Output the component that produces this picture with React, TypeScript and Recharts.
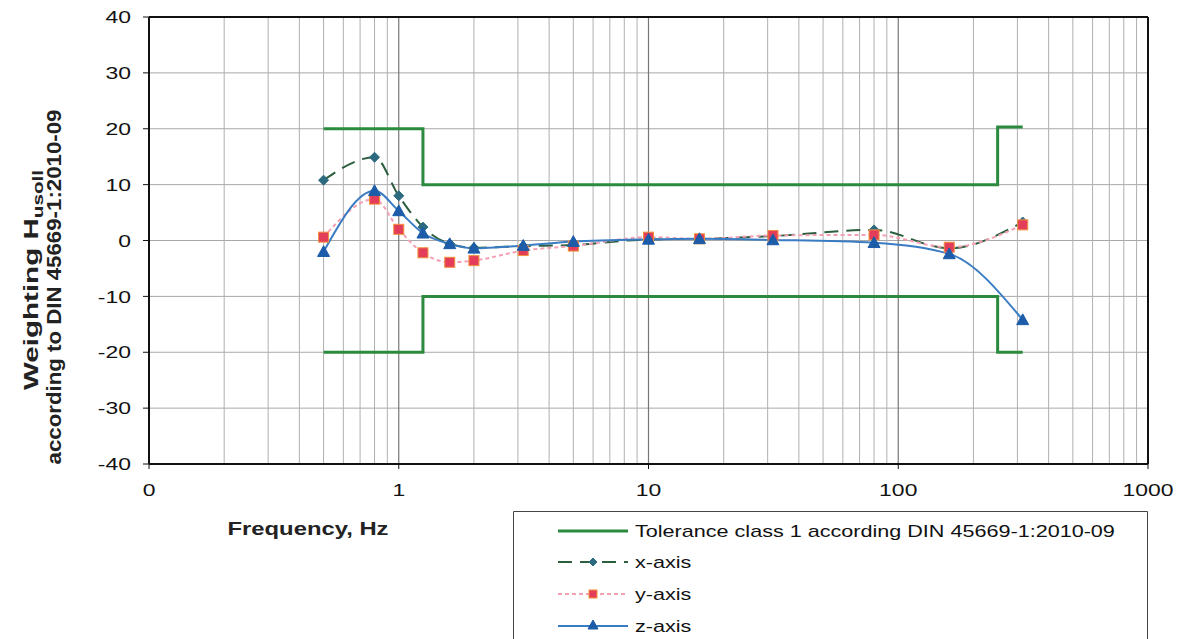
import React from 'react';
import { LineChart, Line, XAxis, YAxis, CartesianGrid, ReferenceLine, Legend, Label } from 'recharts';

// ---- data ----
const freqs = [0.5, 0.8, 1, 1.25, 1.6, 2, 3.15, 5, 10, 16, 31.5, 80, 160, 315];
const xAxisValues = [10.8, 14.9, 8.0, 2.4, -0.6, -1.3, -1.0, -0.8, 0.2, 0.3, 0.8, 1.9, -1.4, 3.3];
const yAxisValues = [0.6, 7.4, 2.0, -2.2, -3.9, -3.6, -1.8, -1.0, 0.6, 0.3, 0.9, 1.0, -1.2, 2.8];
const zAxisValues = [-2.0, 8.9, 5.3, 1.3, -0.6, -1.4, -0.9, -0.2, 0.2, 0.3, 0.1, -0.4, -2.4, -14.2];

const tolFreqs = [0.5, 1.25, 1.25, 250, 250, 315];
const tolUpper = [20, 20, 10, 10, 20.3, 20.3];
const tolLower = [-20, -20, -10, -10, -20, -20];

const xTicks = [0.1, 1, 10, 100, 1000];
const xTickLabels = ['0', '1', '10', '100', '1000'];
const yTicks = [-40, -30, -20, -10, 0, 10, 20, 30, 40];
const minorGridFreqs = [
  0.2, 0.3, 0.4, 0.5, 0.6, 0.7, 0.8, 0.9,
  2, 3, 4, 5, 6, 7, 8, 9,
  20, 30, 40, 50, 60, 70, 80, 90,
  200, 300, 400, 500, 600, 700, 800, 900,
];
const majorGridFreqs = [1, 10, 100];

const seriesNames = {
  tol: 'Tolerance class 1 according DIN 45669-1:2010-09',
  x: 'x-axis',
  y: 'y-axis',
  z: 'z-axis',
};

const xData = freqs.map((f, i) => ({ f, v: xAxisValues[i] }));
const yData = freqs.map((f, i) => ({ f, v: yAxisValues[i] }));
const zData = freqs.map((f, i) => ({ f, v: zAxisValues[i] }));
const upperData = tolFreqs.map((f, i) => ({ f, v: tolUpper[i] }));
const lowerData = tolFreqs.map((f, i) => ({ f, v: tolLower[i] }));

// ---- styles ----
const FONT = "'Liberation Sans', Arial, sans-serif";
const C_TOL = '#2b8a3e';
const C_X = '#2d5e3e';
const C_XM = '#2d6a80';
const C_Y = '#f4a0b4';
const C_YM = '#e33d5a';
const C_YB = '#f2913a';
const C_Z = '#3a7cc3';
const C_ZM = '#1c5ca8';

const Diamond = ({ cx, cy, size = 5 }: any) => (
  <path d={`M${cx},${cy - size}L${cx + size},${cy}L${cx},${cy + size}L${cx - size},${cy}Z`} fill={C_XM} stroke={C_XM} />
);
const Square = ({ cx, cy, size = 5 }: any) => (
  <rect x={cx - size} y={cy - size} width={size * 2} height={size * 2} fill={C_YM} stroke={C_YB} strokeWidth={1} />
);
const Triangle = ({ cx, cy, size = 6 }: any) => (
  <path d={`M${cx},${cy - size}L${cx + size},${cy + size * 0.8}L${cx - size},${cy + size * 0.8}Z`} fill={C_ZM} stroke={C_ZM} />
);

const renderDiamond = (p: any) => <Diamond key={`d${p.index}`} cx={p.cx} cy={p.cy} />;
const renderSquare = (p: any) => <Square key={`s${p.index}`} cx={p.cx} cy={p.cy} />;
const renderTriangle = (p: any) => <Triangle key={`t${p.index}`} cx={p.cx} cy={p.cy} />;

const XTick = (props: any) => {
  const { x, y, payload } = props;
  const idx = xTicks.indexOf(payload.value);
  return (
    <g transform={`translate(${x},${y + 25}) scale(1.35,1)`}>
      <text x={0} y={0} textAnchor="middle" fontSize={17} fontFamily={FONT} fill="#111">
        {idx >= 0 ? xTickLabels[idx] : String(payload.value)}
      </text>
    </g>
  );
};

const YTick = (props: any) => {
  const { x, y, payload } = props;
  return (
    <g transform={`translate(${x},${y}) scale(1.35,1)`}>
      <text x={0} y={0} dy="0.36em" textAnchor="end" fontSize={17} fontFamily={FONT} fill="#111">
        {payload.value}
      </text>
    </g>
  );
};

const YTitle = () => (
  <g fontFamily={FONT} fontWeight="bold" fill="#222">
    <text transform="rotate(-90)" x={-280} y={38} textAnchor="middle" fontSize={20} textLength={220} lengthAdjust="spacingAndGlyphs">
      <tspan>Weighting H</tspan>
      <tspan fontSize={14} dy={5}>usoll</tspan>
    </text>
    <text transform="rotate(-90)" x={-287} y={61} textAnchor="middle" fontSize={20} textLength={355} lengthAdjust="spacingAndGlyphs">
      according to DIN 45669-1:2010-09
    </text>
  </g>
);

const XTitle = () => (
  <text x={308} y={535} textAnchor="middle" fontFamily={FONT} fontWeight="bold" fontSize={19} fill="#222" textLength={161} lengthAdjust="spacingAndGlyphs">
    Frequency, Hz
  </text>
);

const legendItems = [
  { name: seriesNames.tol, kind: 'tol' },
  { name: seriesNames.x, kind: 'x' },
  { name: seriesNames.y, kind: 'y' },
  { name: seriesNames.z, kind: 'z' },
];

const LegendContent = () => {
  const rowY = [20, 51, 83, 115];
  return (
    <svg width={635} height={128} style={{ display: 'block' }}>
      <path d="M0.5,128 L0.5,0.5 L634.5,0.5 L634.5,128" fill="none" stroke="#444" strokeWidth={1} />
      {legendItems.map((it, i) => {
        const y = rowY[i];
        let sample: React.ReactNode = null;
        if (it.kind === 'tol') sample = <line x1={45} x2={115} y1={y} y2={y} stroke={C_TOL} strokeWidth={3} />;
        if (it.kind === 'x')
          sample = (
            <g>
              <line x1={45} x2={115} y1={y} y2={y} stroke={C_X} strokeWidth={2} strokeDasharray="14 8" />
              <Diamond cx={80} cy={y} size={4} />
            </g>
          );
        if (it.kind === 'y')
          sample = (
            <g>
              <line x1={45} x2={115} y1={y} y2={y} stroke={C_Y} strokeWidth={2} strokeDasharray="4 3" />
              <Square cx={80} cy={y} size={4} />
            </g>
          );
        if (it.kind === 'z')
          sample = (
            <g>
              <line x1={45} x2={115} y1={y} y2={y} stroke={C_Z} strokeWidth={2} />
              <Triangle cx={80} cy={y - 1} size={5} />
            </g>
          );
        return (
          <g key={it.name}>
            {sample}
            <g transform={`translate(122,${y}) scale(1.27,1)`}>
              <text x={0} y={0} dy="0.36em" fontSize={17} fontFamily={FONT} fill="#111">
                {it.name}
              </text>
            </g>
          </g>
        );
      })}
    </svg>
  );
};

export default function App() {
  return (
    <div style={{ position: 'absolute', left: 0, top: 0, width: 1179, height: 639, overflow: 'hidden', background: '#fff' }}>
      <LineChart width={1179} height={639} margin={{ top: 17, right: 31, bottom: 0, left: 0 }}>
        <CartesianGrid horizontal={true} vertical={false} stroke="#a8a8a8" strokeWidth={1} />
        {minorGridFreqs.map((f) => (
          <ReferenceLine key={`g${f}`} x={f} stroke="#b0b0b0" strokeWidth={1} />
        ))}
        {majorGridFreqs.map((f) => (
          <ReferenceLine key={`m${f}`} x={f} stroke="#777" strokeWidth={1.2} />
        ))}
        <XAxis
          type="number"
          dataKey="f"
          scale="log"
          domain={[0.1, 1000]}
          ticks={xTicks}
          allowDataOverflow
          height={175}
          tick={<XTick />}
          tickSize={5}
          tickMargin={2}
          axisLine={{ stroke: '#111', strokeWidth: 2 }}
          tickLine={{ stroke: '#111' }}
        >
          <Label content={XTitle} />
        </XAxis>
        <YAxis
          type="number"
          domain={[-40, 40]}
          ticks={yTicks}
          width={149}
          tick={<YTick />}
          tickSize={6}
          tickMargin={12}
          axisLine={{ stroke: '#111', strokeWidth: 2 }}
          tickLine={{ stroke: '#111' }}
        >
          <Label content={YTitle} />
        </YAxis>
        <ReferenceLine y={40} stroke="#111" strokeWidth={2} />
        <ReferenceLine x={1000} stroke="#111" strokeWidth={2} />
        <Line data={upperData} dataKey="v" name={seriesNames.tol} type="linear" stroke={C_TOL} strokeWidth={3} dot={false} isAnimationActive={false} />
        <Line data={lowerData} dataKey="v" name="lower" type="linear" stroke={C_TOL} strokeWidth={3} dot={false} legendType="none" isAnimationActive={false} />
        <Line data={xData} dataKey="v" name={seriesNames.x} type="monotone" stroke={C_X} strokeWidth={2} strokeDasharray="14 8" dot={renderDiamond} isAnimationActive={false} />
        <Line data={yData} dataKey="v" name={seriesNames.y} type="monotone" stroke={C_Y} strokeWidth={2} strokeDasharray="4 3" dot={renderSquare} isAnimationActive={false} />
        <Line data={zData} dataKey="v" name={seriesNames.z} type="monotone" stroke={C_Z} strokeWidth={2} dot={renderTriangle} isAnimationActive={false} />
        <Legend
          layout="horizontal"
          verticalAlign="middle"
          align="center"
          content={LegendContent}
          wrapperStyle={{ position: 'absolute', left: 513, top: 511, width: 635, height: 128 }}
        />
      </LineChart>
    </div>
  );
}
